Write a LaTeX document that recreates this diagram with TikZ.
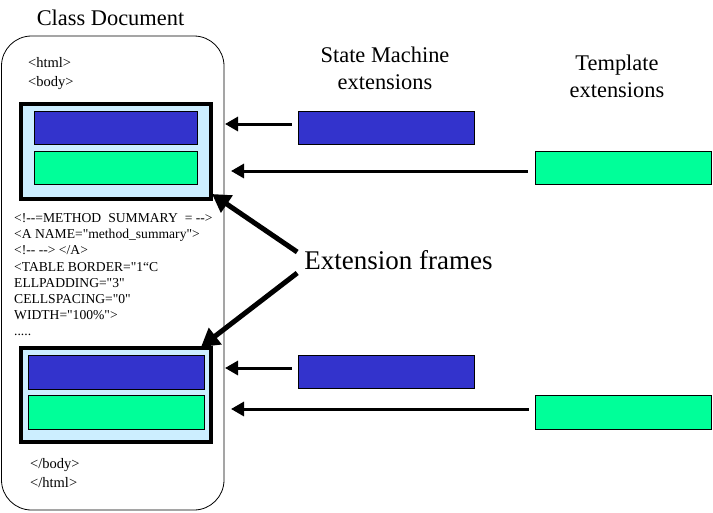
\documentclass[tikz,border=0pt]{standalone}
\usepackage{fontspec}
\setmainfont{Liberation Serif}
\newfontfamily\codefont{Liberation Serif}
\usetikzlibrary{arrows.meta}
\definecolor{boxblue}{RGB}{51,51,204}
\definecolor{boxgreen}{RGB}{0,255,153}
\definecolor{framefill}{RGB}{204,238,255}
\tikzset{
  container/.style={draw, line width=0.8pt, rounded corners=30pt, minimum width=222.5pt, minimum height=474pt, inner sep=0pt},
  extframe/.style={draw, line width=4pt, fill=framefill, minimum width=190pt, minimum height=95pt, inner sep=0pt},
  bluebox/.style={draw, line width=0.9pt, fill=boxblue, minimum height=33pt, inner sep=0pt},
  greenbox/.style={draw, line width=0.9pt, fill=boxgreen, minimum height=33pt, inner sep=0pt},
  codeline/.style={anchor=mid west, inner sep=0pt, font=\codefont\fontsize{13.6}{16}\selectfont},
  tagline/.style={anchor=mid west, inner sep=0pt, font=\codefont\fontsize{14.5}{16}\selectfont},
  titletext/.style={align=center, inner sep=0pt, font=\fontsize{22.4}{27}\selectfont},
  harrow/.style={line width=3pt, -{Triangle[length=13pt,width=14pt]}},
  farrow/.style={line width=5pt, -{Triangle[length=18pt,width=20pt]}}
}
\begin{document}
\begin{tikzpicture}[x=1pt,y=-1pt]
\useasboundingbox (0,0) rectangle (713,512);
% container
\node[container] (doc) at (112.75,273) {};
\node[titletext] (doctitle) at (110.5,18) {Class Document};
% code text
\node[tagline] (html) at (28,65) {<html>};
\node[tagline] (body) at (28,84) {<body>};
\node[codeline] (c1) at (14,220) {<!--=METHOD\hspace{7pt}SUMMARY\hspace{7pt}= -->};
\node[codeline] (c2) at (14,236) {<A NAME="method\_summary">};
\node[codeline] (c3) at (14,252) {<!-- --> </A>};
\node[codeline] (c4) at (14,269) {<TABLE BORDER="1“C};
\node[codeline] (c5) at (14,285) {ELLPADDING="3"};
\node[codeline] (c6) at (14,301) {CELLSPACING="0"};
\node[codeline] (c7) at (14,317) {WIDTH="100\%">};
\node[codeline] (c8) at (14,333) {.....};
\node[tagline] (ebody) at (30,466) {</body>};
\node[tagline] (ehtml) at (30,485) {</html>};
% frames
\node[extframe] (f1) at (116,151.5) {};
\node[bluebox, minimum width=163pt] (b1) at (115.5,127.5) {};
\node[greenbox, minimum width=163pt] (g1) at (115.5,167.5) {};
\node[extframe, minimum height=94pt] (f2) at (116,395) {};
\node[bluebox, minimum width=176pt, minimum height=34pt] (b2) at (116,372) {};
\node[greenbox, minimum width=176pt, minimum height=34pt] (g2) at (116,412) {};
% right-hand titles
\node[titletext] (smtitle) at (385,68) {State Machine\\extensions};
\node[titletext] (tptitle) at (617,76) {Template\\extensions};
% extension boxes
\node[bluebox, minimum width=176pt] (rb1) at (386,127.5) {};
\node[greenbox, minimum width=176pt] (rg1) at (623,167.5) {};
\node[bluebox, minimum width=176pt] (rb2) at (386,371.5) {};
\node[greenbox, minimum width=176pt, minimum height=34pt] (rg2) at (623,412) {};
% arrow tips
\coordinate (t1) at (225,124);
\coordinate (t2) at (231,171);
\coordinate (t3) at (225,368);
\coordinate (t4) at (231,409);
\draw[harrow] ([shift={(-6,-3.5)}]rb1.west) -- (t1);
\draw[harrow] ([shift={(-7,3.5)}]rg1.west) -- (t2);
\draw[harrow] ([shift={(-6,-3.5)}]rb2.west) -- (t3);
\draw[harrow] ([shift={(-6,-3)}]rg2.west) -- (t4);
% extension frames label
\node[inner sep=0pt, font=\fontsize{27}{30}\selectfont] (ef) at (398.5,260) {Extension frames};
\coordinate (ft1) at (212,194);
\coordinate (ft2) at (201,347);
\draw[farrow] ([shift={(-7,-8)}]ef.west) -- (ft1);
\draw[farrow] ([shift={(-7,13)}]ef.west) -- (ft2);
\end{tikzpicture}
\end{document}
